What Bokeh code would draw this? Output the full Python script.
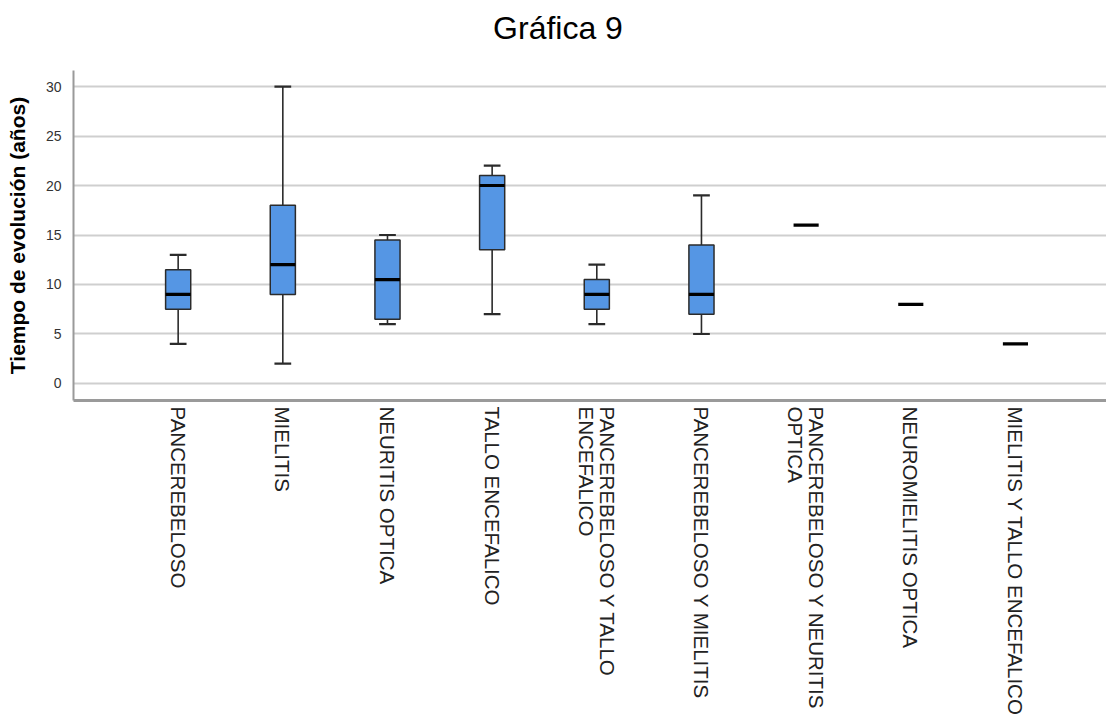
import math
import numpy as np
from bokeh.plotting import figure
from bokeh.layouts import column
from bokeh.models import ColumnDataSource, FixedTicker, Range1d, Div
from bokeh.embed import file_html
from bokeh.resources import INLINE

# Groups and box-plot statistics (years of evolution)
categories = [
    "PANCEREBELOSO",
    "MIELITIS",
    "NEURITIS OPTICA",
    "TALLO ENCEFALICO",
    "PANCEREBELOSO Y TALLO\nENCEFALICO",
    "PANCEREBELOSO Y MIELITIS",
    "PANCEREBELOSO Y NEURITIS\nOPTICA",
    "NEUROMIELITIS OPTICA",
    "MIELITIS Y TALLO ENCEFALICO",
]
whisker_low = [4, 2, 6, 7, 6, 5, 16, 8, 4]
q1 = [7.5, 9, 6.5, 13.5, 7.5, 7, 16, 8, 4]
median = [9, 12, 10.5, 20, 9, 9, 16, 8, 4]
q3 = [11.5, 18, 14.5, 21, 10.5, 14, 16, 8, 4]
whisker_high = [13, 30, 15, 22, 12, 19, 16, 8, 4]
y_ticks = [0, 5, 10, 15, 20, 25, 30]

BOX_W = 0.24
CAP_W = 0.16
FILL = "#5596e4"
EDGE = "#2b2b2b"
FONT = "Liberation Sans"

x = np.arange(1, len(categories) + 1, dtype=float)
lo = np.array(whisker_low, dtype=float)
b1 = np.array(q1, dtype=float)
md = np.array(median, dtype=float)
b3 = np.array(q3, dtype=float)
hi = np.array(whisker_high, dtype=float)

has_box = b3 > b1
box_src = ColumnDataSource(dict(x=x[has_box], top=b3[has_box], bottom=b1[has_box]))

up = hi > b3
upper_src = ColumnDataSource(dict(x=x[up], y0=b3[up], y1=hi[up],
                                  c0=x[up] - CAP_W / 2, c1=x[up] + CAP_W / 2))
dn = lo < b1
lower_src = ColumnDataSource(dict(x=x[dn], y0=b1[dn], y1=lo[dn],
                                  c0=x[dn] - CAP_W / 2, c1=x[dn] + CAP_W / 2))
med_src = ColumnDataSource(dict(x0=x - BOX_W / 2, x1=x + BOX_W / 2, y=md))

# heading above the chart
heading = Div(
    text="Gráfica 9", width=1106, height=70, margin=0,
    styles={
        "font-family": FONT, "font-size": "32px", "color": "#000000",
        "text-align": "center", "line-height": "56px",
        "padding-left": "10px", "box-sizing": "border-box",
        "width": "1106px",
    },
)

p = figure(
    width=1106, height=652,
    x_range=Range1d(0, 9.87), y_range=Range1d(-1.72, 31.62),
    output_backend="svg", toolbar_location=None,
    min_border_left=73, min_border_right=0,
    min_border_top=0, min_border_bottom=322,
)
p.outline_line_color = None
p.background_fill_color = "white"
p.border_fill_color = "white"

# whiskers and caps
for src in (upper_src, lower_src):
    p.segment(x0="x", y0="y0", x1="x", y1="y1", source=src,
              line_color=EDGE, line_width=1.6)
    p.segment(x0="c0", y0="y1", x1="c1", y1="y1", source=src,
              line_color=EDGE, line_width=2.2)

# boxes
p.vbar(x="x", top="top", bottom="bottom", width=BOX_W, source=box_src,
       fill_color=FILL, line_color=EDGE, line_width=1.5)

# medians
p.segment(x0="x0", y0="y", x1="x1", y1="y", source=med_src,
          line_color="#000000", line_width=3.2)

# axes and grid
p.xgrid.visible = False
p.ygrid.grid_line_color = "#cfcfcf"
p.ygrid.grid_line_width = 2
p.yaxis.ticker = FixedTicker(ticks=y_ticks)
p.xaxis.ticker = FixedTicker(ticks=list(x))
p.xaxis.major_label_overrides = {float(i): lab for i, lab in zip(x, categories)}
p.xaxis.major_label_orientation = -math.pi / 2

for ax in (p.xaxis, p.yaxis):
    ax.major_tick_line_color = None
    ax.minor_tick_line_color = None
    ax.axis_line_color = "#9a9a9a"

p.yaxis.axis_line_width = 2
p.xaxis.axis_line_width = 3

p.yaxis.major_label_text_font = FONT
p.yaxis.major_label_text_font_size = "14px"
p.yaxis.major_label_text_color = "#333333"
p.yaxis.major_label_standoff = 6
p.yaxis.axis_label = "Tiempo de evolución (años)"
p.yaxis.axis_label_text_font = FONT
p.yaxis.axis_label_text_font_size = "21px"
p.yaxis.axis_label_text_font_style = "bold"
p.yaxis.axis_label_text_color = "#000000"
p.yaxis.axis_label_standoff = 14

p.xaxis.major_label_text_font = FONT
p.xaxis.major_label_text_font_size = "20.5px"
p.xaxis.major_label_text_color = "#222222"
p.xaxis.major_label_text_line_height = 0.9
p.xaxis.major_label_standoff = 0

page = column(heading, p, spacing=0, margin=0)
open("out.html", "w").write(file_html(page, INLINE))
